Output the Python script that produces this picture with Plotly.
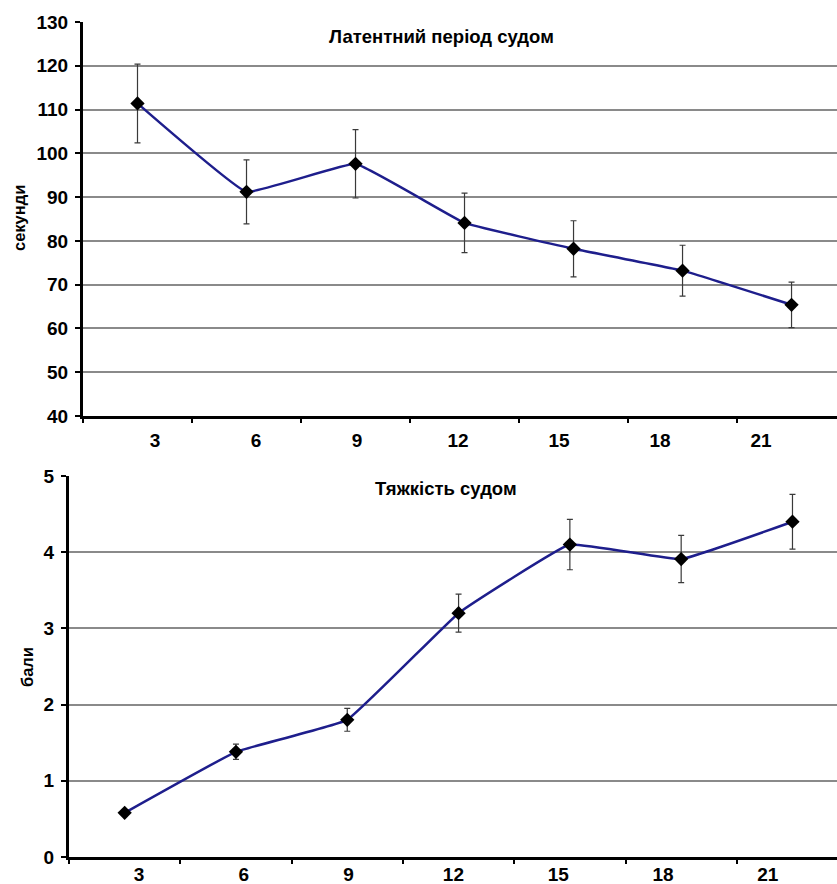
import plotly.graph_objects as go

days = ["3", "6", "9", "12", "15", "18", "21"]

latency_mean = [111.4, 91.2, 97.6, 84.1, 78.2, 73.2, 65.4]
latency_err = [9.0, 7.3, 7.8, 6.8, 6.4, 5.8, 5.2]

severity_mean = [0.58, 1.38, 1.80, 3.20, 4.10, 3.91, 4.40]
severity_err = [0.0, 0.10, 0.15, 0.25, 0.33, 0.31, 0.36]

top_title = "Латентний період судом"
bottom_title = "Тяжкість судом"
top_ytitle = "секунди"
bottom_ytitle = "бали"

FONT = "Liberation Sans, Arial, sans-serif"
LINE_COLOR = "#1e1e8c"
GRID = "#8a8a8a"

W, H = 837, 884
top_dom_x = [83 / W, 1.0]
bot_dom_x = [69 / W, 1.0]
top_dom_y = [1 - 416 / H, 1 - 22 / H]
bot_dom_y = [1 - 857 / H, 1 - 476 / H]

fig = go.Figure()

def add_series(y, err, xa, ya):
    fig.add_trace(go.Scatter(
        x=days, y=y, xaxis=xa, yaxis=ya,
        mode="lines+markers",
        line=dict(color=LINE_COLOR, width=2.5, shape="spline", smoothing=0.25),
        marker=dict(symbol="diamond", size=11, color="black"),
        error_y=dict(type="data", array=err, visible=True,
                     color="#3a3a3a", thickness=1.2, width=3),
        showlegend=False, hoverinfo="x+y",
    ))

add_series(latency_mean, latency_err, "x", "y")
add_series(severity_mean, severity_err, "x2", "y2")

# invisible carriers so the label axes get drawn
for xa, ya in (("x3", "y"), ("x4", "y2")):
    fig.add_trace(go.Scatter(x=[None], y=[None], xaxis=xa, yaxis=ya,
                             mode="markers", showlegend=False,
                             hoverinfo="skip"))

tickfont = dict(family=FONT, size=19, color="black", weight="bold")

common_x = dict(
    type="category", categoryorder="array", categoryarray=days,
    showticklabels=False, showgrid=False,
    showline=True, linecolor="black", linewidth=3,
    ticks="outside", tickson="boundaries", ticklen=4, tickwidth=2,
    tickcolor="black", zeroline=False, fixedrange=True, automargin=False,
)

label_x = dict(
    type="linear",
    tickmode="array", tickvals=list(range(len(days))), ticktext=days,
    showgrid=False, showline=False, ticks="", zeroline=False,
    tickfont=tickfont, side="bottom", fixedrange=True, automargin=False,
)

common_y = dict(
    showgrid=True, gridcolor=GRID, gridwidth=1.5,
    showline=True, linecolor="black", linewidth=3,
    ticks="outside", ticklen=5, tickwidth=2, tickcolor="black",
    tickfont=tickfont, zeroline=False, ticklabelstandoff=3,
    fixedrange=True, automargin=False,
)

title_font = dict(family=FONT, size=18.5, color="black", weight="bold")
ytitle_font = dict(family=FONT, size=16.5, color="black", weight="bold")

fig.update_layout(
    template="none",
    width=W, height=H,
    margin=dict(l=0, r=0, t=0, b=0, pad=0),
    paper_bgcolor="white", plot_bgcolor="white",
    font=dict(family=FONT, color="black"),
    xaxis=dict(common_x, domain=top_dom_x, anchor="y",
               range=[-0.5, 6.417]),
    yaxis=dict(common_y, domain=top_dom_y, anchor="x",
               range=[40, 130], dtick=10),
    xaxis2=dict(common_x, domain=bot_dom_x, anchor="y2",
                range=[-0.5, 6.4]),
    yaxis2=dict(common_y, domain=bot_dom_y, anchor="x2",
                range=[0, 5], dtick=1),
    xaxis3=dict(label_x, domain=top_dom_x, anchor="y", overlaying="x",
                range=[-0.713, 6.752], ticklabelstandoff=11),
    xaxis4=dict(label_x, domain=bot_dom_x, anchor="y2", overlaying="x2",
                range=[-0.668, 6.66], ticklabelstandoff=4),
    annotations=[
        dict(text=top_title, xref="paper", yref="paper",
             x=441 / W, y=1 - 37 / H, xanchor="center", yanchor="middle",
             showarrow=False, font=title_font),
        dict(text=bottom_title, xref="paper", yref="paper",
             x=446 / W, y=1 - 488 / H, xanchor="center", yanchor="middle",
             showarrow=False, font=title_font),
        dict(text=top_ytitle, xref="paper", yref="paper",
             x=19 / W, y=1 - 218 / H, xanchor="center", yanchor="middle",
             showarrow=False, textangle=-90, font=ytitle_font),
        dict(text=bottom_ytitle, xref="paper", yref="paper",
             x=27 / W, y=1 - 667 / H, xanchor="center", yanchor="middle",
             showarrow=False, textangle=-90, font=ytitle_font),
    ],
)

fig.write_html("out.html",
               config={"displayModeBar": False, "staticPlot": False},
               post_script="document.body.style.margin='0';"
                           "document.body.style.overflow='hidden';")
